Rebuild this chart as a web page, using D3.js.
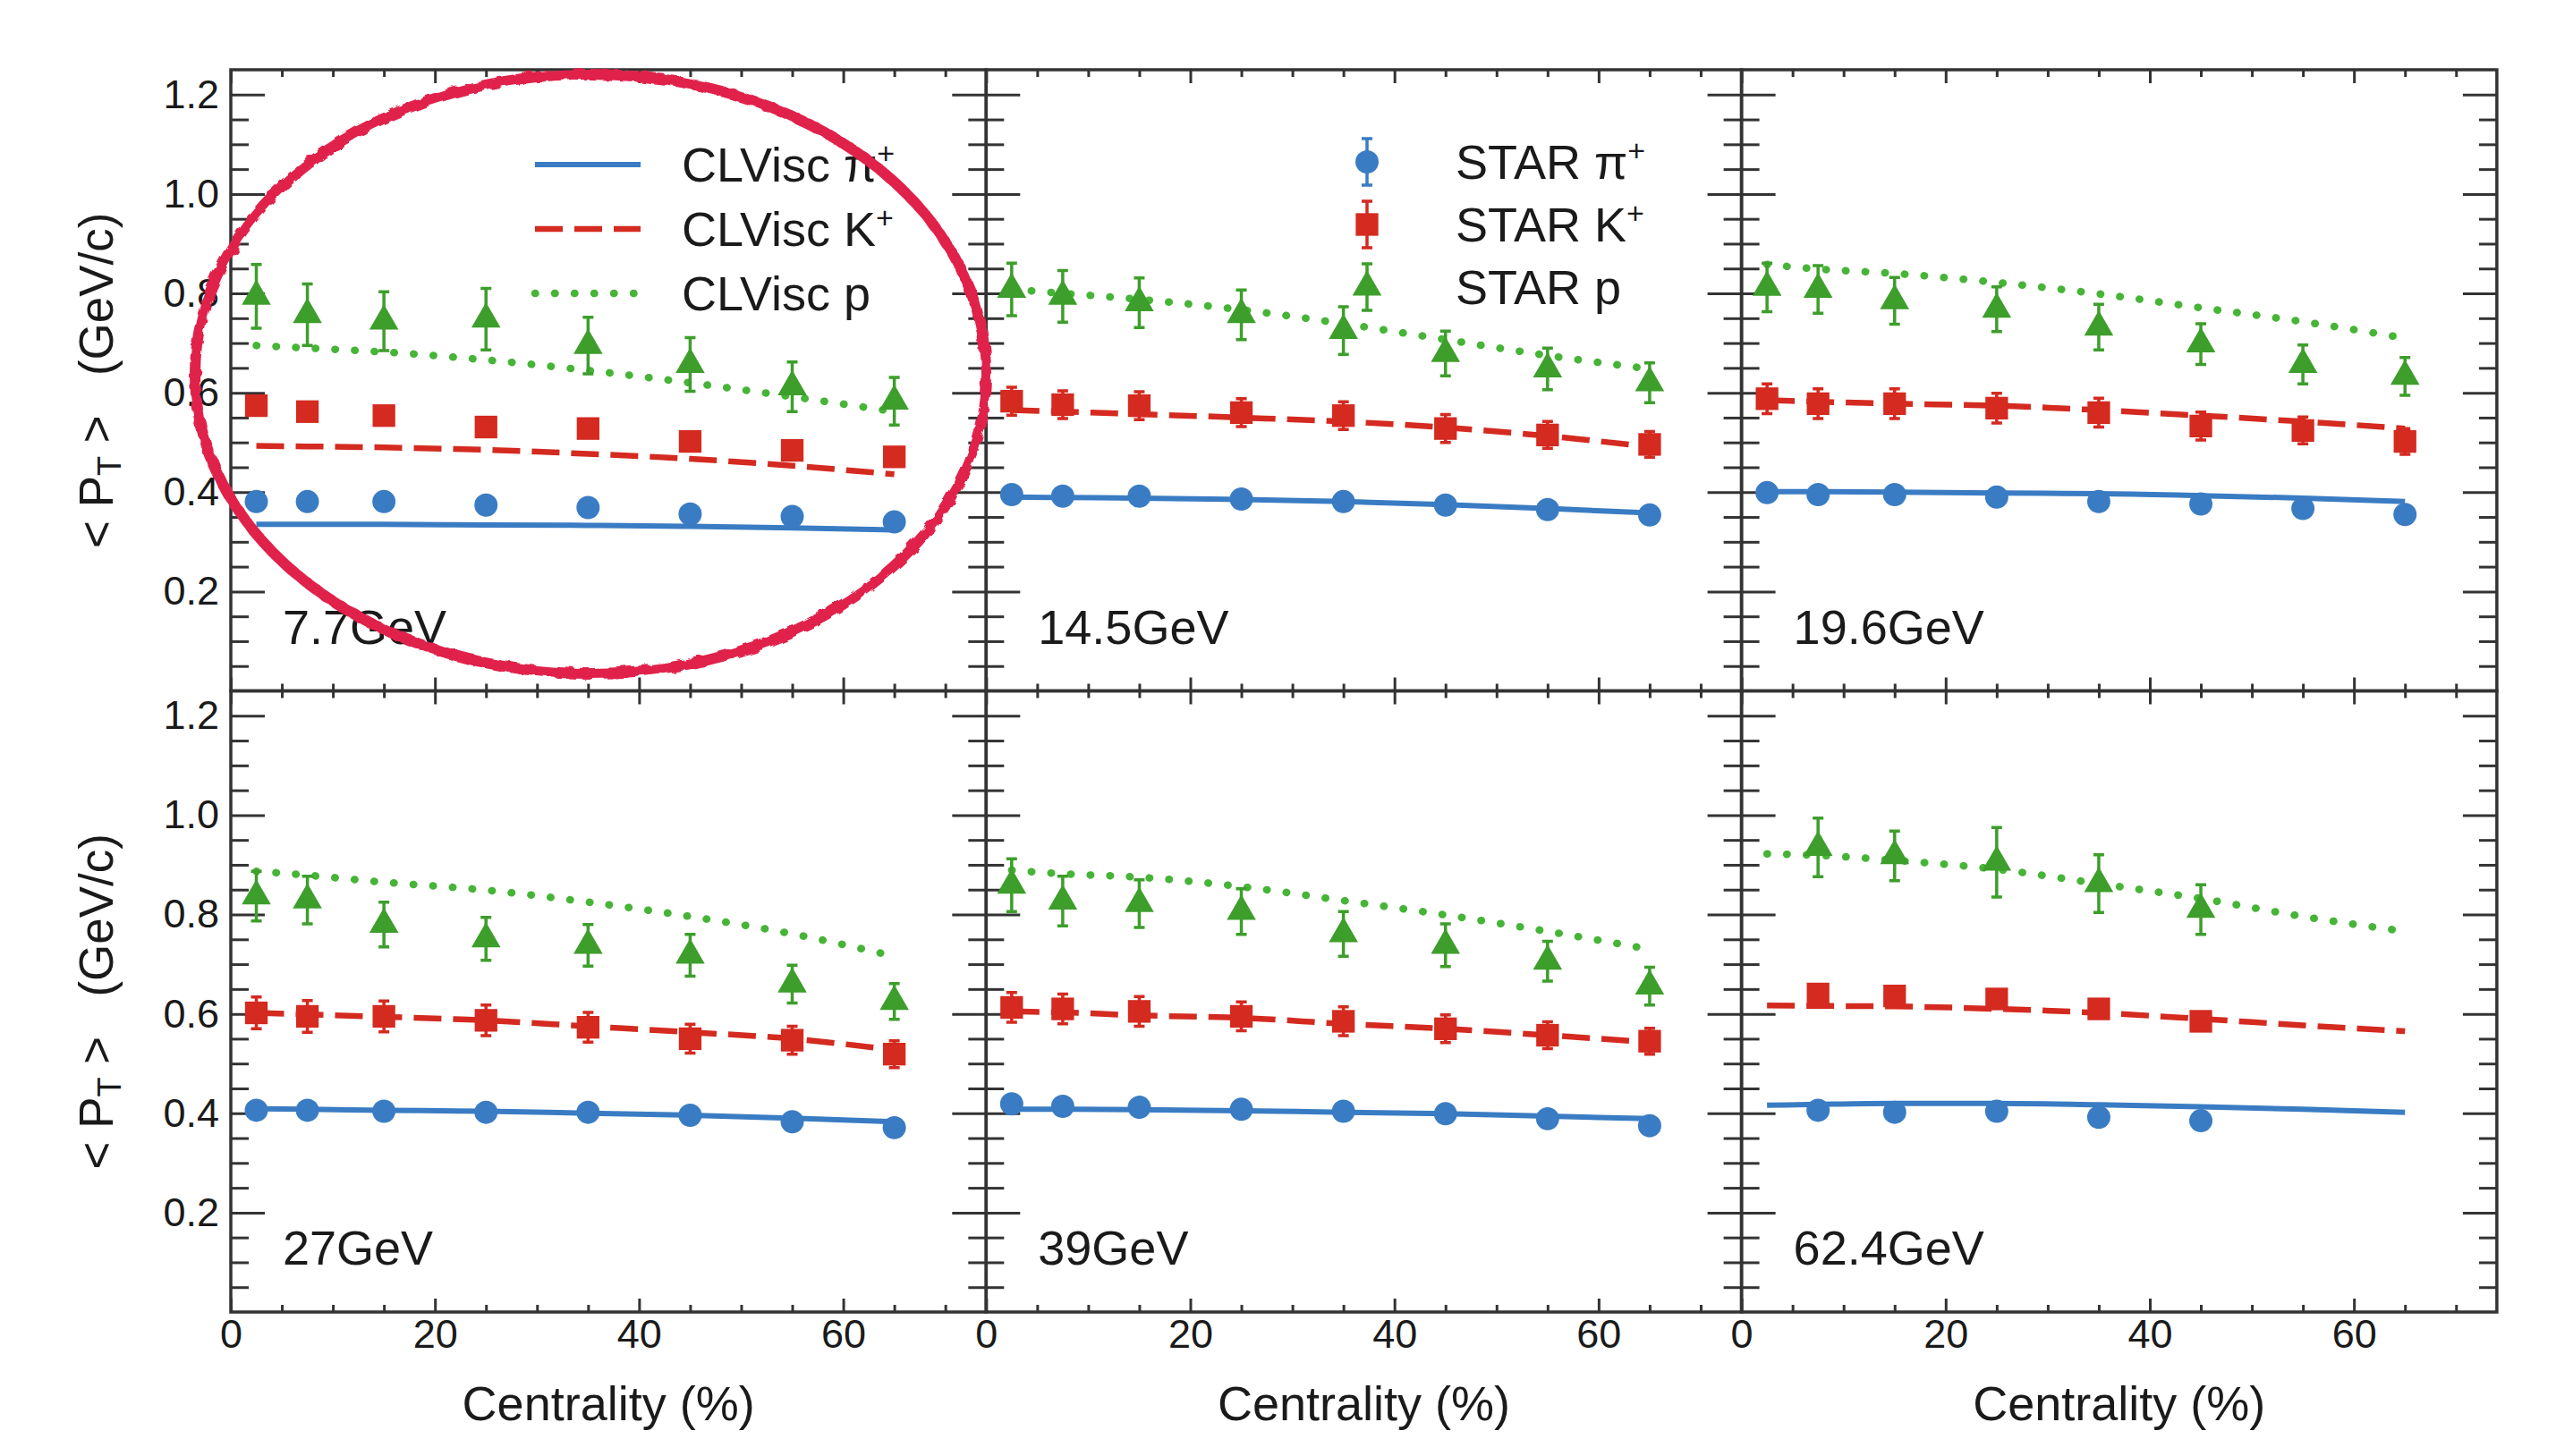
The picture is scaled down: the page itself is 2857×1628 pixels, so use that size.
<!DOCTYPE html>
<html lang="en">
<head>
  <meta charset="utf-8">
  <title>mean pT vs centrality</title>
  <script src="https://d3js.org/d3.v7.min.js"></script>
  <style>
    body { margin: 0; background: #fff; }
    text { font-family: "Liberation Sans", Arial, Helvetica, sans-serif; fill: #1a1a1a; }
    .tick line { stroke: #333; stroke-width: 3; }
    .domain { display: none; }
  </style>
</head>
<body>
<script type="text/javascript">
// centrality bin centres (%)
var cent = [2.5, 7.5, 15, 25, 35, 45, 55, 65];
var energies = ['7.7GeV', '14.5GeV', '19.6GeV', '27GeV', '39GeV', '62.4GeV'];

// STAR data, one row per energy
var starPi = [
  [0.381, 0.381, 0.381, 0.374, 0.369, 0.356, 0.351, 0.340],
  [0.395, 0.392, 0.392, 0.386, 0.381, 0.374, 0.365, 0.354],
  [0.399, 0.395, 0.395, 0.390, 0.381, 0.376, 0.367, 0.355],
  [0.406, 0.406, 0.404, 0.402, 0.402, 0.396, 0.383, 0.371],
  [0.419, 0.414, 0.412, 0.408, 0.404, 0.399, 0.389, 0.375],
  [null, 0.406, 0.402, 0.404, 0.392, 0.385, null, null]
];
var starK = [
  [0.574, 0.562, 0.554, 0.531, 0.528, 0.502, 0.484, 0.471],
  [0.583, 0.576, 0.574, 0.560, 0.554, 0.528, 0.515, 0.496],
  [0.588, 0.578, 0.578, 0.569, 0.560, 0.533, 0.524, 0.502],
  [0.602, 0.595, 0.595, 0.587, 0.573, 0.550, 0.547, 0.519],
  [0.613, 0.610, 0.605, 0.595, 0.585, 0.570, 0.557, 0.545],
  [null, 0.640, 0.636, 0.630, 0.610, 0.585, null, null]
];
var starP = [
  [0.794, 0.757, 0.744, 0.748, 0.695, 0.657, 0.612, 0.583],
  [0.808, 0.794, 0.781, 0.757, 0.725, 0.679, 0.648, 0.620],
  [0.812, 0.808, 0.785, 0.768, 0.732, 0.698, 0.657, 0.633],
  [0.837, 0.829, 0.780, 0.751, 0.738, 0.718, 0.660, 0.625],
  [0.859, 0.827, 0.822, 0.806, 0.761, 0.738, 0.706, 0.656],
  [null, 0.935, 0.918, 0.905, 0.862, 0.810, null, null]
];
var errPi = [
  [0.008, 0.008, 0.008, 0.008, 0.008, 0.008, 0.008, 0.008],
  [0.012, 0.012, 0.012, 0.012, 0.012, 0.012, 0.012, 0.012],
  [0.012, 0.012, 0.012, 0.012, 0.012, 0.012, 0.012, 0.012],
  [0.012, 0.012, 0.012, 0.012, 0.012, 0.012, 0.012, 0.012],
  [0.012, 0.012, 0.012, 0.012, 0.012, 0.012, 0.012, 0.012],
  [null, 0.008, 0.008, 0.008, 0.008, 0.008, null, null]
];
var errK = [
  [0.010, 0.010, 0.010, 0.010, 0.010, 0.010, 0.010, 0.010],
  [0.028, 0.028, 0.028, 0.028, 0.028, 0.028, 0.027, 0.026],
  [0.030, 0.030, 0.030, 0.030, 0.029, 0.028, 0.027, 0.026],
  [0.032, 0.032, 0.031, 0.031, 0.030, 0.029, 0.028, 0.027],
  [0.030, 0.030, 0.030, 0.029, 0.029, 0.028, 0.027, 0.026],
  [null, 0.012, 0.012, 0.012, 0.012, 0.012, null, null]
];
var errP = [
  [0.064, 0.062, 0.059, 0.062, 0.057, 0.054, 0.050, 0.048],
  [0.053, 0.052, 0.050, 0.050, 0.048, 0.045, 0.042, 0.040],
  [0.049, 0.048, 0.047, 0.045, 0.046, 0.041, 0.039, 0.038],
  [0.050, 0.048, 0.045, 0.043, 0.042, 0.042, 0.038, 0.036],
  [0.053, 0.050, 0.048, 0.046, 0.045, 0.043, 0.040, 0.038],
  [null, 0.059, 0.050, 0.070, 0.058, 0.050, null, null]
];

// CLVisc model curves at the same centralities
var clvPi = [
  [0.335, 0.335, 0.335, 0.334, 0.333, 0.331, 0.328, 0.324],
  [0.390, 0.389, 0.388, 0.385, 0.381, 0.375, 0.367, 0.358],
  [0.401, 0.401, 0.400, 0.398, 0.397, 0.393, 0.388, 0.381],
  [0.409, 0.408, 0.406, 0.404, 0.400, 0.396, 0.390, 0.383],
  [0.408, 0.408, 0.407, 0.405, 0.402, 0.399, 0.394, 0.389],
  [0.416, 0.418, 0.420, 0.420, 0.417, 0.413, 0.408, 0.402]
];
var clvK = [
  [0.493, 0.492, 0.490, 0.485, 0.477, 0.467, 0.453, 0.436],
  [0.565, 0.562, 0.557, 0.550, 0.542, 0.530, 0.513, 0.491],
  [0.585, 0.582, 0.578, 0.574, 0.565, 0.554, 0.542, 0.528],
  [0.602, 0.599, 0.594, 0.587, 0.575, 0.563, 0.550, 0.527],
  [0.605, 0.603, 0.597, 0.592, 0.580, 0.570, 0.557, 0.543],
  [0.617, 0.616, 0.615, 0.610, 0.602, 0.590, 0.577, 0.565]
];
var clvP = [
  [0.695, 0.690, 0.682, 0.666, 0.645, 0.620, 0.592, 0.562],
  [0.808, 0.800, 0.788, 0.767, 0.739, 0.707, 0.675, 0.648],
  [0.858, 0.849, 0.840, 0.822, 0.799, 0.771, 0.743, 0.710],
  [0.887, 0.879, 0.865, 0.849, 0.825, 0.796, 0.761, 0.716],
  [0.889, 0.882, 0.875, 0.856, 0.828, 0.799, 0.766, 0.730],
  [0.922, 0.919, 0.909, 0.891, 0.862, 0.832, 0.796, 0.766]
];

var yMajor = [0.2, 0.4, 0.6, 0.8, 1.0, 1.2];
var yMinor = d3.range(0.05, 1.25, 0.05).filter(function(v) { return Math.abs(v / 0.2 - Math.round(v / 0.2)) > 0.01; });
var xMajor = [0, 20, 40, 60];
var xMinor = [5, 10, 15, 25, 30, 35, 45, 50, 55, 65, 70];

var W = 2857, H = 1628;
var padL = 258, padT = 78, pw = 844.3, ph = 694.5;

var blue = '#3a7cc3', red = '#d42a20', green = '#3d9e2b', greenDot = '#46b436';

var species = [
  {name: 'π', sup: '+', star: starPi, err: errPi, clv: clvPi, color: blue, line: blue,
   sym: d3.symbolCircle, size: 530, dash: null, width: 6, cap: 'butt'},
  {name: 'K', sup: '+', star: starK, err: errK, clv: clvK, color: red, line: red,
   sym: d3.symbolSquare, size: 640, dash: '31 13', width: 6.5, cap: 'butt'},
  {name: 'p', sup: '', star: starP, err: errP, clv: clvP, color: green, line: greenDot,
   sym: d3.symbolTriangle, size: 460, dash: '0.5 21.5', width: 8.5, cap: 'round'}
];

var svg = d3.select('body').append('svg')
    .attr('width', W)
    .attr('height', H);

svg.append('rect').attr('width', W).attr('height', H).attr('fill', '#fff');

var x = d3.scaleLinear().domain([0, 74]).range([0, pw]);
var y = d3.scaleLinear().domain([0, 1.25]).range([ph, 0]);

energies.forEach(function(label, i) {
  var col = i % 3, row = Math.floor(i / 3);
  var g = svg.append('g')
      .attr('transform', 'translate(' + [padL + col * pw, padT + row * ph] + ')');

  // ticks, ROOT style: all pointing inwards on all four sides
  var yl = g.append('g').call(d3.axisLeft(y).tickValues(yMajor).tickSize(-38).tickPadding(13)
      .tickFormat(col === 0 ? d3.format('.1f') : ''));
  yl.selectAll('text').style('font-size', '45px');
  g.append('g').call(d3.axisLeft(y).tickValues(yMinor).tickSize(-20).tickFormat(''));
  g.append('g').attr('transform', 'translate(' + pw + ',0)')
      .call(d3.axisRight(y).tickValues(yMajor).tickSize(-38).tickFormat(''));
  g.append('g').attr('transform', 'translate(' + pw + ',0)')
      .call(d3.axisRight(y).tickValues(yMinor).tickSize(-20).tickFormat(''));

  var xb = g.append('g').attr('transform', 'translate(0,' + ph + ')')
      .call(d3.axisBottom(x).tickValues(xMajor).tickSize(-15).tickPadding(8)
        .tickFormat(row === 1 ? d3.format('d') : ''));
  xb.selectAll('text').style('font-size', '45px');
  g.append('g').attr('transform', 'translate(0,' + ph + ')')
      .call(d3.axisBottom(x).tickValues(xMinor).tickSize(-8).tickFormat(''));
  g.append('g').call(d3.axisTop(x).tickValues(xMajor).tickSize(-15).tickFormat(''));
  g.append('g').call(d3.axisTop(x).tickValues(xMinor).tickSize(-8).tickFormat(''));

  g.append('rect')
      .attr('width', pw).attr('height', ph)
      .attr('fill', 'none').attr('stroke', '#333').attr('stroke-width', 3.5);

  // model curves
  species.forEach(function(s) {
    var pts = cent.map(function(c, j) { return [c, s.clv[i][j]]; });
    g.append('path')
        .datum(pts)
        .attr('fill', 'none')
        .attr('stroke', s.line)
        .attr('stroke-width', s.width)
        .attr('stroke-linecap', s.cap)
        .attr('stroke-dasharray', s.dash)
        .attr('d', d3.line().curve(d3.curveMonotoneX)
          .x(function(d) { return x(d[0]); })
          .y(function(d) { return y(d[1]); }));
  });

  // STAR points with error bars
  species.forEach(function(s) {
    var pts = cent.map(function(c, j) { return {x: c, v: s.star[i][j], e: s.err[i][j]}; })
        .filter(function(d) { return d.v != null; });
    var pg = g.selectAll(null).data(pts).enter().append('g')
        .attr('transform', function(d) { return 'translate(' + [x(d.x), y(d.v)] + ')'; });
    pg.append('path')
        .attr('stroke', s.color).attr('stroke-width', 3.5).attr('fill', 'none')
        .attr('d', function(d) {
          var a = y(d.v + d.e) - y(d.v), b = y(d.v - d.e) - y(d.v);
          return 'M0,' + a + 'V' + b + 'M-6,' + a + 'H6M-6,' + b + 'H6';
        });
    pg.append('path')
        .attr('fill', s.color)
        .attr('d', d3.symbol().type(s.sym).size(s.size));
  });

  g.append('text')
      .attr('x', 58).attr('y', ph - 53)
      .style('font-size', '54px')
      .text(label);

  if (row === 1) {
    g.append('text')
        .attr('x', pw / 2).attr('y', ph + 121)
        .attr('text-anchor', 'middle')
        .style('font-size', '54px')
        .text('Centrality (%)');
  }
  if (col === 0) {
    var t = g.append('text')
        .attr('transform', 'translate(' + [126 - padL, ph / 2] + ') rotate(-90)')
        .attr('text-anchor', 'middle')
        .style('font-size', '53px');
    t.append('tspan').text('< P');
    t.append('tspan').attr('baseline-shift', '-25%').style('font-size', '36px').text('T');
    t.append('tspan').text('\u00a0>\u00a0\u00a0\u00a0(GeV/c)');
  }
});

// legends
var legModel = svg.append('g');
species.forEach(function(s, k) {
  var ry = 184 + k * 72;
  legModel.append('line')
      .attr('x1', 598).attr('x2', 716).attr('y1', ry).attr('y2', ry)
      .attr('stroke', s.line).attr('stroke-width', s.width)
      .attr('stroke-linecap', s.cap).attr('stroke-dasharray', s.dash);
  var t = legModel.append('text').attr('x', 762).attr('y', ry + 19).style('font-size', '54px');
  t.append('tspan').text('CLVisc ' + s.name);
  t.append('tspan').attr('dy', -20).style('font-size', '34px').text(s.sup);
});

var legStar = svg.append('g');
species.forEach(function(s, k) {
  var ry = 181 + k * 70;
  var lg = legStar.append('g').attr('transform', 'translate(' + [1528, ry] + ')');
  lg.append('path')
      .attr('stroke', s.color).attr('stroke-width', 3.5).attr('fill', 'none')
      .attr('d', 'M0,-26V26M-6,-26H6M-6,26H6');
  lg.append('path').attr('fill', s.color).attr('d', d3.symbol().type(s.sym).size(s.size));
  var t = legStar.append('text').attr('x', 1627).attr('y', ry + 19).style('font-size', '54px');
  t.append('tspan').text('STAR ' + s.name);
  t.append('tspan').attr('dy', -20).style('font-size', '34px').text(s.sup);
});

// hand-drawn red annotation around the 7.7 GeV panel
var defs = svg.append('defs');
var f = defs.append('filter').attr('id', 'rough').attr('x', '-5%').attr('y', '-5%').attr('width', '110%').attr('height', '110%');
f.append('feTurbulence').attr('type', 'fractalNoise').attr('baseFrequency', 0.08).attr('numOctaves', 2).attr('result', 'n');
f.append('feDisplacementMap').attr('in', 'SourceGraphic').attr('in2', 'n').attr('scale', 7);
svg.append('ellipse')
    .attr('cx', 660).attr('cy', 418).attr('rx', 442).attr('ry', 335)
    .attr('fill', 'none')
    .attr('stroke', '#e0234b')
    .attr('stroke-width', 12)
    .attr('filter', 'url(#rough)');
</script>
</body>
</html>
